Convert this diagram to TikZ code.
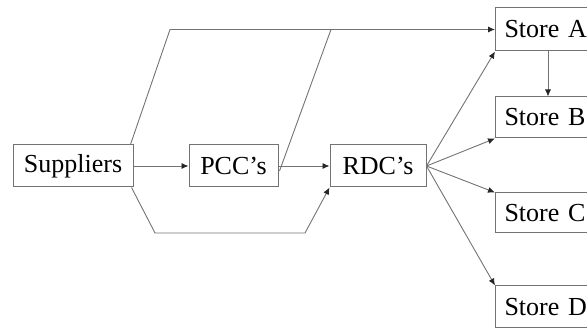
\documentclass[tikz,border=0pt]{standalone}
\usepackage{fontspec}
\setmainfont{Liberation Serif}
\usetikzlibrary{arrows.meta}
\begin{document}
\begin{tikzpicture}[x=1pt,y=-1pt,
  box/.style={draw=black!55,line width=1pt,fill=white,minimum height=42pt,inner sep=0pt,font=\fontsize{26}{30}\selectfont},
  storebox/.style={box,anchor=west,inner xsep=9pt,text width=110pt,align=left},
  link/.style={draw=black!55,line width=0.9pt},
  arr/.style={link,-{Latex[length=7pt,width=6pt,color=black!85]}}]
\useasboundingbox (0,0) rectangle (587,328);
\node[box,minimum width=120pt] (sup) at (73,166) {Suppliers};
\node[box,minimum width=89pt] (pcc) at (233.5,166) {PCC’s};
\node[box,minimum width=96pt] (rdc) at (378,166) {RDC’s};
\node[storebox,minimum height=43pt] (sa) at (495,29.5) {Store A};
\node[storebox,minimum height=41pt] (sb) at (495,117.5) {Store B};
\node[storebox,minimum height=40pt] (sc) at (495,213) {Store C};
\node[storebox,minimum height=42pt] (sd) at (495,307) {Store D};
\coordinate (t1) at (170,29.5);
\coordinate (t2) at (331,29.5);
\coordinate (b1) at (155,233);
\coordinate (b2) at (305,233);
\coordinate (ab) at (548,0);
\draw[arr] (sup.east) -- (pcc.west);
\draw[arr] (pcc.east) -- (rdc.west);
\draw[arr] ([xshift=-3pt]sup.north east) -- (t1) -- (sa.west);
\draw[link] ([xshift=1pt,yshift=-5pt]pcc.east) -- (t2);
\draw[arr] ([xshift=-2pt]sup.south east) -- (b1) -- (b2) -- (rdc.south west);
\draw[arr] (rdc.east) -- (sa.south west);
\draw[arr] (rdc.east) -- (sb.south west);
\draw[arr] (rdc.east) -- (sc.north west);
\draw[arr] (rdc.east) -- (sd.north west);
\draw[arr] (sa.south west -| ab) -- (sb.north west -| ab);
\end{tikzpicture}
\end{document}
